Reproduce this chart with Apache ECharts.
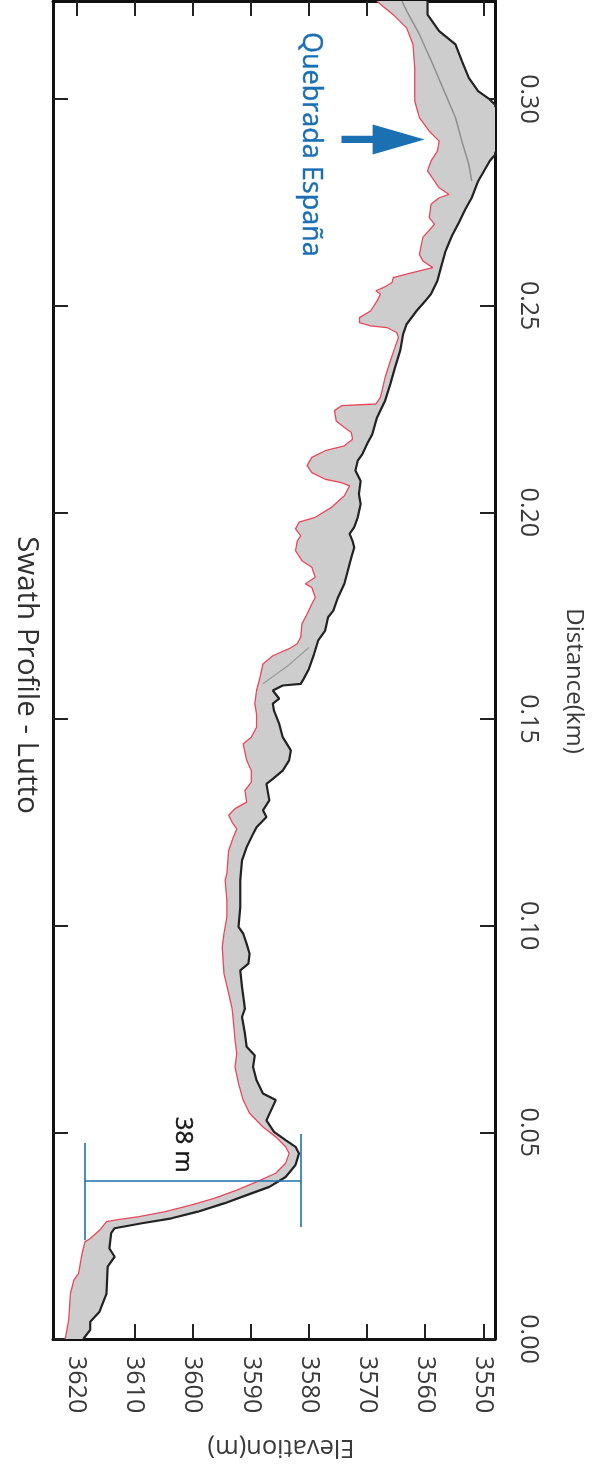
<!DOCTYPE html>
<html>
<head>
<meta charset="utf-8">
<script src="https://cdn.jsdelivr.net/npm/echarts@6/dist/echarts.min.js"></script>
<style>
html,body{margin:0;padding:0;background:#fff;}
#chart{width:594px;height:1473px;}
</style>
</head>
<body>
<div id="chart"></div>
<script>
// Tick values
const elevTicks = [3550, 3560, 3570, 3580, 3590, 3600, 3610, 3620];
const distTicks = [0, 0.05, 0.10, 0.15, 0.20, 0.25, 0.30];

// Maximum elevation profile (red)
const redDist = [0,0.0046,0.0110,0.0143,0.0159,0.0207,0.0235,0.0243,0.0263,0.0284,0.0288,0.0296,0.0308,0.0324,0.0340,0.0360,0.0380,0.0401,0.0425,0.0449,0.0465,0.0489,0.0513,0.0546,0.0578,0.0618,0.0658,0.0691,0.0723,0.0771,
0.0799,0.0836,0.0884,0.0948,0.0981,0.1021,0.1061,0.1110,0.1126,0.1182,0.1214,0.1234,0.1250,0.1267,0.1283,0.1299,
0.1327,0.1347,0.1375,0.1400,0.1440,0.1456,0.1480,0.1512,0.1537,0.1569,0.1601,0.1633,0.1653,0.1670,0.1682,0.1698,0.1730,0.1754,0.1778,0.1794,0.1818,0.1827,0.1843,0.1867,0.1883,0.1907,0.1931,0.1943,0.1960,0.1976,0.1988,0.2012,0.2040,0.2064,0.2072,0.2080,0.2096,0.2113,
0.2117,0.2133,0.2149,0.2161,0.2177,0.2193,0.2205,0.2221,0.2246,0.2258,0.2262,0.2278,0.2326,0.2366,0.2399,0.2423,0.2435,0.2447,0.2451,0.2459,0.2471,0.2487,0.2511,
0.2528,0.2536,0.2544,0.2556,0.2568,0.2576,0.2584,0.2592,0.2608,0.2624,0.2665,0.2697,0.2713,0.2745,0.2761,0.2769,0.2785,0.2826,0.2850,0.2874,0.2898,0.2922,0.2955,0.2995,0.3075,0.3132,0.3172,0.3204,0.3229,0.3237];
const redElev = [3621.9,3621.3,3621.0,3620.4,3619.6,3619.0,3618.5,3617.6,3616.0,3614.8,3613.1,3609.2,3604.7,3600.3,3596.3,3592.4,3589.0,3585.7,3584.0,3583.4,3584.0,3585.7,3587.9,3590.2,3591.3,3592.1,3592.7,3592.4,3592.7,3593.0,
3593.2,3593.8,3594.6,3594.9,3594.6,3594.1,3594.1,3594.4,3594.1,3593.8,3593.0,3592.4,3593.2,3593.8,3592.7,3590.7,
3591.0,3589.9,3589.9,3590.7,3591.3,3589.9,3589.0,3589.0,3589.3,3589.0,3588.4,3587.9,3586.2,3583.4,3582.0,3581.4,3581.2,3580.3,3579.5,3578.9,3579.5,3580.6,3578.9,3579.5,3581.2,3582.3,3582.0,3581.4,3582.3,3581.7,3578.9,3576.1,3573.9,3573.0,3574.4,3577.2,3579.5,3580.3,
3580.3,3579.5,3577.2,3573.9,3572.5,3572.7,3573.9,3575.3,3575.6,3574.4,3568.5,3567.7,3566.9,3566.0,3565.2,3564.6,3564.9,3566.6,3569.4,3571.3,3571.3,3569.4,3568.3,
3567.7,3568.5,3567.1,3565.7,3565.5,3563.2,3561.0,3558.7,3560.4,3561.0,3560.4,3558.4,3559.3,3559.0,3557.6,3555.9,3557.6,3559.6,3559.0,3557.9,3557.6,3559.3,3561.0,3561.8,3561.8,3562.1,3563.2,3565.5,3567.7,3568.3];

// Minimum elevation profile (black)
const blackDist = [0,0.0022,0.0042,0.0066,0.0110,0.0175,0.0199,0.0219,0.0256,0.0268,0.0280,0.0292,0.0308,0.0328,0.0348,0.0368,0.0392,0.0421,0.0449,0.0465,0.0481,0.0501,0.0529,0.0578,0.0594,0.0626,0.0658,0.0686,0.0707,0.0739,0.0779,
0.0799,0.0852,0.0892,0.0908,0.0932,0.0956,0.0981,0.0997,0.1045,0.1110,0.1158,0.1190,0.1222,0.1238,0.1263,0.1279,
0.1303,0.1343,0.1355,0.1375,0.1400,0.1424,0.1456,0.1488,0.1520,0.1537,0.1549,0.1569,0.1581,0.1585,0.1597,0.1621,0.1653,0.1690,0.1714,0.1746,0.1762,0.1794,0.1827,0.1859,0.1891,0.1915,0.1931,0.1948,0.1964,0.1988,0.2020,0.2044,0.2076,0.2101,
0.2125,0.2141,0.2165,0.2189,0.2229,0.2270,0.2310,0.2350,0.2391,0.2431,0.2455,0.2487,0.2511,
0.2528,0.2560,0.2592,0.2632,0.2669,0.2701,0.2733,0.2761,0.2801,0.2850,0.2874,0.2979,0.2999,0.3019,0.3051,0.3092,0.3132,0.3164,0.3204,0.3237];
const blackElev = [3618.8,3617.6,3617.6,3616.0,3614.8,3614.6,3613.4,3614.3,3614.0,3613.4,3608.7,3603.6,3599.1,3594.6,3590.7,3586.8,3584.0,3582.3,3581.7,3582.3,3584.0,3586.0,3587.3,3585.7,3587.9,3589.0,3589.6,3589.3,3590.7,3591.0,3591.5,
3591.0,3591.5,3591.8,3590.4,3590.2,3590.7,3591.3,3592.1,3591.8,3591.8,3591.5,3590.7,3589.6,3589.0,3587.3,3587.9,
3586.8,3587.3,3586.2,3584.5,3583.4,3583.1,3584.5,3585.1,3586.0,3586.2,3585.1,3586.2,3584.5,3581.4,3580.9,3580.0,3579.2,3578.4,3577.2,3576.7,3575.8,3575.0,3573.9,3573.3,3572.7,3572.2,3572.5,3573.0,3572.2,3571.6,3571.1,3571.4,3571.1,3572.0,
3571.6,3570.8,3570.0,3569.1,3568.3,3566.9,3566.0,3565.2,3564.3,3563.8,3563.2,3561.5,3560.0,
3559.0,3557.9,3557.3,3556.5,3555.4,3554.2,3553.1,3552.0,3550.9,3548.9,3547.5,3547.5,3548.9,3550.9,3552.5,3553.7,3554.8,3557.6,3559.6,3559.6];

// Mean profile segments (grey)
const meanDist = [0.2801,0.2842,0.2898,0.2955,0.3011,0.3084,0.3156,0.3213,0.3237];
const meanElev = [3552.0,3552.5,3553.7,3554.8,3556.5,3558.7,3561.0,3563.2,3564.0];
const mean2Dist = [0.1585,0.1630,0.1673];
const mean2Elev = [3587.9,3583.5,3580.0];

// Annotations (data coordinates)
const measureElev = [3618.5, 3581.4];
const measureLeftDist = [0.0239, 0.0474];
const measureRightDist = [0.0271, 0.0496];
const measureMidDist = 0.0384;
const measureLabel = {text: '38 m', elev: 3601.6, dist: 0.0470};
const arrowDist = 0.2902;
const arrowElev = [3574.4, 3560.1];
const placeLabel = {text: 'Quebrada España', elev: 3579.7, dist: 0.2890};

const pairs = (d, e) => d.map((v, i) => [e[i], v]);
const redData = pairs(redDist, redElev);
const blackData = pairs(blackDist, blackElev);
const meanData = pairs(meanDist, meanElev);
const mean2Data = pairs(mean2Dist, mean2Elev);

const FONT = 'Open Sans';
const BLUE = '#1b70b2';
const TXT = '#3a3a3a';

const chart = echarts.init(document.getElementById('chart'), null, {renderer: 'canvas'});

const tickStyle = {show: true, inside: true, length: 15, lineStyle: {color: '#222', width: 2}};
const lineStyle = {show: true, onZero: false, lineStyle: {color: '#111', width: 3}};

chart.setOption({
  backgroundColor: '#fff',
  animation: false,
  graphic: [{
    type: 'text',
    x: 26, y: 675,
    rotation: -Math.PI / 2,
    style: {text: 'Swath Profile - Lutto', fontSize: 29.5, fontFamily: FONT, fill: '#303030', textAlign: 'center', textVerticalAlign: 'middle'}
  }],
  grid: {left: 53, right: 92, top: 1, bottom: 134, containLabel: false},
  xAxis: [{
    type: 'value', position: 'bottom', inverse: true, min: 3548, max: 3624,
    name: 'Elevation(m)', nameLocation: 'middle', nameRotate: 180, nameGap: 95,
    nameTextStyle: {fontSize: 25.5, fontFamily: FONT, color: TXT, padding: [0, 14, 0, 0]},
    axisLine: lineStyle,
    axisTick: Object.assign({customValues: elevTicks}, tickStyle),
    axisLabel: {customValues: elevTicks, rotate: -90, margin: 17, fontSize: 25, fontFamily: FONT, color: TXT,
      formatter: v => String(v)},
    splitLine: {show: false}
  }, {
    type: 'value', position: 'top', inverse: true, min: 3548, max: 3624,
    axisLine: lineStyle,
    axisTick: Object.assign({customValues: elevTicks}, tickStyle),
    axisLabel: {show: false},
    splitLine: {show: false}
  }],
  yAxis: [{
    type: 'value', position: 'right', min: 0, max: 0.3237,
    name: 'Distance(km)', nameLocation: 'middle', nameRotate: -90, nameGap: 67,
    nameTextStyle: {fontSize: 24, fontFamily: FONT, color: TXT, padding: [0, 0, 0, 22]},
    axisLine: lineStyle,
    axisTick: Object.assign({customValues: distTicks}, tickStyle),
    axisLabel: {customValues: distTicks, rotate: -90, margin: 21, fontSize: 25, fontFamily: FONT, color: TXT,
      formatter: v => v.toFixed(2)},
    splitLine: {show: false}
  }, {
    type: 'value', position: 'left', min: 0, max: 0.3237,
    axisLine: lineStyle,
    axisTick: Object.assign({customValues: distTicks}, tickStyle),
    axisLabel: {show: false},
    splitLine: {show: false}
  }],
  series: [
    {
      name: 'band', type: 'custom', xAxisIndex: 0, yAxisIndex: 0, z: 1, clip: true,
      data: [0],
      renderItem: function (params, api) {
        const pts = [];
        redData.forEach(p => pts.push(api.coord(p)));
        for (let i = blackData.length - 1; i >= 0; i--) pts.push(api.coord(blackData[i]));
        const cs = params.coordSys;
        const clipped = echarts.graphic.clipPointsByRect(pts, {x: cs.x, y: cs.y, width: cs.width, height: cs.height});
        return {type: 'polygon', shape: {points: clipped}, style: {fill: '#cdcdcd', stroke: null}};
      }
    },
    {name: 'mean', type: 'line', data: meanData, symbol: 'none', z: 2, lineStyle: {color: '#8f8f8f', width: 1.5}},
    {name: 'mean2', type: 'line', data: mean2Data, symbol: 'none', z: 2, lineStyle: {color: '#9a9a9a', width: 1.2}},
    {name: 'min', type: 'line', data: blackData, symbol: 'none', z: 3, lineStyle: {color: '#222', width: 2.2}},
    {name: 'max', type: 'line', data: redData, symbol: 'none', z: 4, lineStyle: {color: '#e8475c', width: 1.3}},
    {
      name: 'measure', type: 'lines', coordinateSystem: 'cartesian2d', z: 5,
      lineStyle: {color: BLUE, width: 1.6, opacity: 1},
      data: [
        {coords: [[measureElev[0], measureLeftDist[0]], [measureElev[0], measureLeftDist[1]]]},
        {coords: [[measureElev[1], measureRightDist[0]], [measureElev[1], measureRightDist[1]]]},
        {coords: [[measureElev[0], measureMidDist], [measureElev[1], measureMidDist]]}
      ]
    },
    {
      name: 'arrow', type: 'custom', z: 6, data: [0],
      renderItem: function (params, api) {
        const a = api.coord([arrowElev[0], arrowDist]);
        const b = api.coord([arrowElev[1], arrowDist]);
        const hx = b[0] - 52;
        return {type: 'group', children: [
          {type: 'rect', shape: {x: a[0], y: a[1] - 3.6, width: hx - a[0] + 2, height: 7.2}, style: {fill: BLUE}},
          {type: 'polygon', shape: {points: [[hx, b[1] - 15], [b[0], b[1]], [hx, b[1] + 15]]}, style: {fill: BLUE}}
        ]};
      }
    },
    {
      name: 'labels', type: 'scatter', z: 7, symbolSize: 0, silent: true,
      data: [
        {value: [measureLabel.elev, measureLabel.dist], label: {formatter: measureLabel.text, color: '#151515', fontSize: 24, textBorderColor: '#151515', textBorderWidth: 0.4}},
        {value: [placeLabel.elev, placeLabel.dist], label: {formatter: placeLabel.text, color: '#1a6fb4', fontSize: 27, textBorderColor: '#1a6fb4', textBorderWidth: 0.4}}
      ],
      label: {show: true, position: 'inside', rotate: -90, fontFamily: FONT, opacity: 1}
    }
  ]
});
</script>
</body>
</html>
